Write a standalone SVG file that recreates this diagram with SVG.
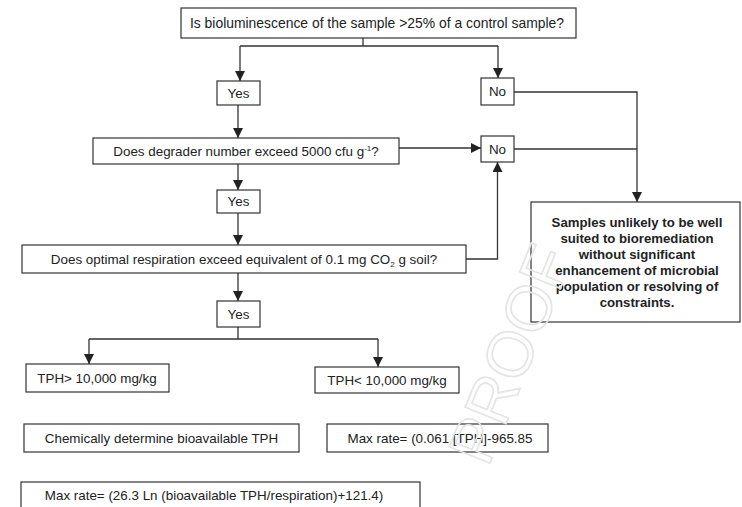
<svg xmlns="http://www.w3.org/2000/svg" width="742" height="507" viewBox="0 0 742 507">
  <defs>
    <marker id="arrow" viewBox="0 0 10 10" refX="10" refY="5" markerWidth="10" markerHeight="10" markerUnits="userSpaceOnUse" orient="auto">
      <path d="M0,0 L10,5 L0,10 z" fill="#222"/>
    </marker>
    <style>
      .box { fill: #fff; stroke: #333; stroke-width: 1.2; }
      .t { font-family: "Liberation Sans", Arial, sans-serif; font-size: 13.4px; fill: #222; text-anchor: middle; }
      .b { font-weight: bold; font-size: 13.2px; }
      .edge { fill: none; stroke: #333; stroke-width: 1.3; }
      .wm { font-family: "Liberation Sans", Arial, sans-serif; font-size: 64px; fill: none; stroke: #e4e4e4; stroke-width: 1.6; }
    </style>
  </defs>
  <rect width="742" height="507" fill="#fff"/>

  <g id="connectors">
    <path class="edge" d="M363,38 V46 M240,46 H498"/>
    <path class="edge" d="M240,46 V81" marker-end="url(#arrow)"/>
    <path class="edge" d="M498,46 V78" marker-end="url(#arrow)"/>
    <path class="edge" d="M238,105 V138" marker-end="url(#arrow)"/>
    <path class="edge" d="M399,148 H481" marker-end="url(#arrow)"/>
    <path class="edge" d="M514,92 H637 V202" marker-end="url(#arrow)"/>
    <path class="edge" d="M514,149 H637"/>
    <path class="edge" d="M238,164 V190" marker-end="url(#arrow)"/>
    <path class="edge" d="M238,213 V245" marker-end="url(#arrow)"/>
    <path class="edge" d="M466,259 H497.5 V162" marker-end="url(#arrow)"/>
    <path class="edge" d="M238,273 V301" marker-end="url(#arrow)"/>
    <path class="edge" d="M238,327 V339 M89,339 H378"/>
    <path class="edge" d="M89,339 V364" marker-end="url(#arrow)"/>
    <path class="edge" d="M378,339 V367" marker-end="url(#arrow)"/>
  </g>

  <g id="q-bioluminescence">
    <rect class="box" x="181" y="8" width="395" height="30"/>
    <text class="t" x="377" y="27.5" style="font-size:13.9px">Is bioluminescence of the sample &gt;25% of a control sample?</text>
  </g>

  <g id="yes-1">
    <rect class="box" x="217" y="81" width="43" height="24"/>
    <text class="t" x="238.5" y="97.5">Yes</text>
  </g>

  <g id="no-1">
    <rect class="box" x="481" y="78" width="33" height="27"/>
    <text class="t" x="497.5" y="96">No</text>
  </g>

  <g id="q-degrader">
    <rect class="box" x="93" y="138" width="306" height="26"/>
    <text class="t" x="246" y="156">Does degrader number exceed 5000 cfu g<tspan dy="-5" font-size="8">-1</tspan><tspan dy="5">?</tspan></text>
  </g>

  <g id="no-2">
    <rect class="box" x="481" y="136" width="33" height="26"/>
    <text class="t" x="497.5" y="153.5">No</text>
  </g>

  <g id="yes-2">
    <rect class="box" x="217" y="190" width="43" height="23"/>
    <text class="t" x="238.5" y="206">Yes</text>
  </g>

  <g id="q-respiration">
    <rect class="box" x="22" y="245" width="444" height="28"/>
    <text class="t" x="244" y="263.5">Does optimal respiration exceed equivalent of 0.1 mg CO<tspan dy="3" font-size="8">2</tspan><tspan dy="-3"> g soil?</tspan></text>
  </g>

  <g id="unsuited">
    <rect class="box" x="531" y="202" width="209" height="120"/>
    <text class="t b" x="637" y="227">Samples unlikely to be well</text>
    <text class="t b" x="637" y="243">suited to bioremediation</text>
    <text class="t b" x="637" y="259">without significant</text>
    <text class="t b" x="637" y="275">enhancement of microbial</text>
    <text class="t b" x="637" y="291">population or resolving of</text>
    <text class="t b" x="637" y="307">constraints.</text>
  </g>

  <g id="yes-3">
    <rect class="box" x="217" y="301" width="43" height="26"/>
    <text class="t" x="238.5" y="318.5">Yes</text>
  </g>

  <g id="tph-high">
    <rect class="box" x="26" y="364" width="143" height="28"/>
    <text class="t" x="97" y="382.5">TPH&gt; 10,000 mg/kg</text>
  </g>

  <g id="tph-low">
    <rect class="box" x="315" y="367" width="144" height="26"/>
    <text class="t" x="387" y="384.5">TPH&lt; 10,000 mg/kg</text>
  </g>

  <g id="chem-bioavailable">
    <rect class="box" x="24" y="424" width="275" height="28"/>
    <text class="t" x="161.5" y="442.5">Chemically determine bioavailable TPH</text>
  </g>

  <g id="max-rate-low">
    <rect class="box" x="327" y="424" width="221" height="28"/>
    <text class="t" x="440" y="442.5">Max rate= (0.061 [TPH]-965.85</text>
  </g>

  <g id="max-rate-high">
    <rect class="box" x="21" y="482" width="399" height="40"/>
    <text class="t" x="214" y="500">Max rate= (26.3 Ln (bioavailable TPH/respiration)+121.4)</text>
  </g>

  <!-- faint watermark over the page -->
  <text class="wm" transform="translate(488,468) rotate(-68)">PROOF</text>
</svg>
